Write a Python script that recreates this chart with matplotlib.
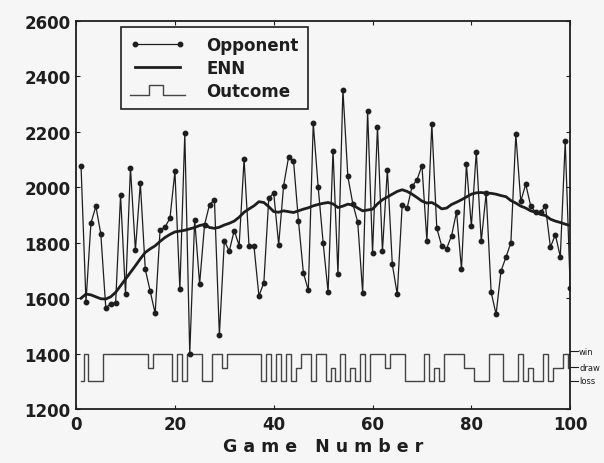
import matplotlib
matplotlib.use("Agg")
import matplotlib.pyplot as plt
from matplotlib.lines import Line2D
from matplotlib.legend_handler import HandlerBase

# --- data ---
games = list(range(1, 101))

opponent = [2075, 1587, 1871, 1931, 1832, 1566, 1580, 1584, 1971, 1614,
            2071, 1772, 2015, 1704, 1625, 1545, 1847, 1856, 1889, 2057,
            1632, 2194, 1400, 1883, 1652, 1865, 1937, 1955, 1467, 1806,
            1770, 1844, 1790, 2102, 1788, 1788, 1608, 1656, 1961, 1979,
            1793, 2006, 2108, 2096, 1880, 1692, 1628, 2230, 2000, 1800,
            1622, 2132, 1686, 2352, 2039, 1941, 1874, 1620, 2276, 1764,
            2218, 1770, 2063, 1722, 1614, 1937, 1925, 2003, 2027, 2078,
            1806, 2229, 1853, 1788, 1779, 1826, 1911, 1705, 2083, 1859,
            2128, 1805, 1979, 1622, 1542, 1698, 1748, 1800, 2191, 1949,
            2011, 1933, 1910, 1911, 1931, 1784, 1829, 1749, 2165, 1638]

enn = [1600, 1615, 1612, 1605, 1598, 1597, 1605, 1621, 1645, 1669,
       1693, 1717, 1742, 1765, 1778, 1789, 1805, 1819, 1830, 1839,
       1842, 1845, 1850, 1855, 1862, 1866, 1855, 1852, 1856, 1864,
       1870, 1878, 1892, 1910, 1922, 1933, 1948, 1945, 1930, 1912,
       1910, 1915, 1912, 1909, 1915, 1921, 1926, 1933, 1938, 1942,
       1945, 1940, 1927, 1932, 1939, 1936, 1925, 1915, 1918, 1921,
       1940, 1955, 1965, 1975, 1985, 1991, 1985, 1975, 1963, 1950,
       1943, 1945, 1935, 1922, 1925, 1938, 1946, 1955, 1965, 1975,
       1980, 1981, 1979, 1978, 1975, 1970, 1966, 1952, 1943, 1932,
       1925, 1915, 1910, 1902, 1898, 1885, 1878, 1873, 1867, 1862]

# W = win, D = draw, L = loss
outcome = ("LWLLLWWWWWWWWWDWWWWLWLWWWLLWWDWWWWWWWLWLWLWLDWWLWW"
           "LDLWLDLWLWWWDWWWLLLLWLDLWWWWDDLLLWWWLLLWLDLLWLDDWD")
levels = {"W": 1400, "D": 1350, "L": 1300}
outcome_vals = [levels[c] for c in outcome]

x_ticks = [0, 20, 40, 60, 80, 100]
y_ticks = [1200, 1400, 1600, 1800, 2000, 2200, 2400, 2600]
side_labels = ["win", "draw", "loss"]
side_pos = [1408, 1352, 1302]


class StepHandler(HandlerBase):
    """Draws a little square pulse as the legend key of the outcome line."""
    def create_artists(self, legend, orig_handle, xdescent, ydescent,
                       width, height, fontsize, trans):
        x0, w = -xdescent, width
        lo, hi = -ydescent + 0.05 * height, -ydescent + 0.95 * height
        xs = [x0, x0 + 0.35 * w, x0 + 0.35 * w, x0 + 0.6 * w, x0 + 0.6 * w, x0 + w]
        ys = [lo, lo, hi, hi, lo, lo]
        line = Line2D(xs, ys, color=orig_handle.get_color(),
                      linewidth=orig_handle.get_linewidth(), transform=trans)
        return [line]


bg = "#f6f6f6"
ink = "#1e1e1e"
plt.rcParams["font.family"] = ["DejaVu Sans"]

fig = plt.figure(figsize=(6.04, 4.64), dpi=100, facecolor=bg)
ax = fig.add_axes([0.126, 0.116, 0.818, 0.837], facecolor=bg)

ax.plot(games, outcome_vals, drawstyle="steps-mid", color="#444444", linewidth=1.0)
ln_opp, = ax.plot(games, opponent, color=ink, linewidth=0.9, marker="o",
                  markersize=3.2, markerfacecolor=ink, markeredgecolor=ink)
ln_enn, = ax.plot(games, enn, color=ink, linewidth=2.0)
ln_out = Line2D([], [], color="#444444", linewidth=1.0)

ax.set_xlim(0, 100)
ax.set_ylim(1200, 2600)
ax.set_xticks(x_ticks)
ax.set_yticks(y_ticks)
ax.tick_params(direction="in", length=3, width=0.8, top=True, right=True,
               labelsize=12, colors=ink, pad=4)
for lab in ax.get_xticklabels() + ax.get_yticklabels():
    lab.set_fontweight("bold")
for sp in ax.spines.values():
    sp.set_linewidth(1.3)
    sp.set_color(ink)

ax.set_xlabel("G a m e   N u m b e r", fontsize=12.5, fontweight="bold",
              color=ink, labelpad=3)

# outcome scale on the right edge
for name, yv in zip(side_labels, side_pos):
    ax.plot([100, 101.6], [yv, yv], color=ink, linewidth=0.8, clip_on=False)
    ax.text(101.8, yv, name, fontsize=6, color=ink, va="center", ha="left",
            clip_on=False)

leg = ax.legend([ln_opp, ln_enn, ln_out], ["Opponent", "ENN", "Outcome"],
                loc="upper left", bbox_to_anchor=(0.09, 0.985), frameon=True,
                fancybox=False, edgecolor=ink, facecolor=bg, framealpha=1,
                handlelength=3.3, handletextpad=1.3, numpoints=2, borderpad=0.55,
                labelspacing=0.3, borderaxespad=0.0,
                prop={"weight": "bold", "size": 12},
                handler_map={ln_out: StepHandler()})
leg.get_frame().set_linewidth(1.2)
for t in leg.get_texts():
    t.set_color(ink)

fig.savefig("out.png", dpi=100, facecolor=bg)
